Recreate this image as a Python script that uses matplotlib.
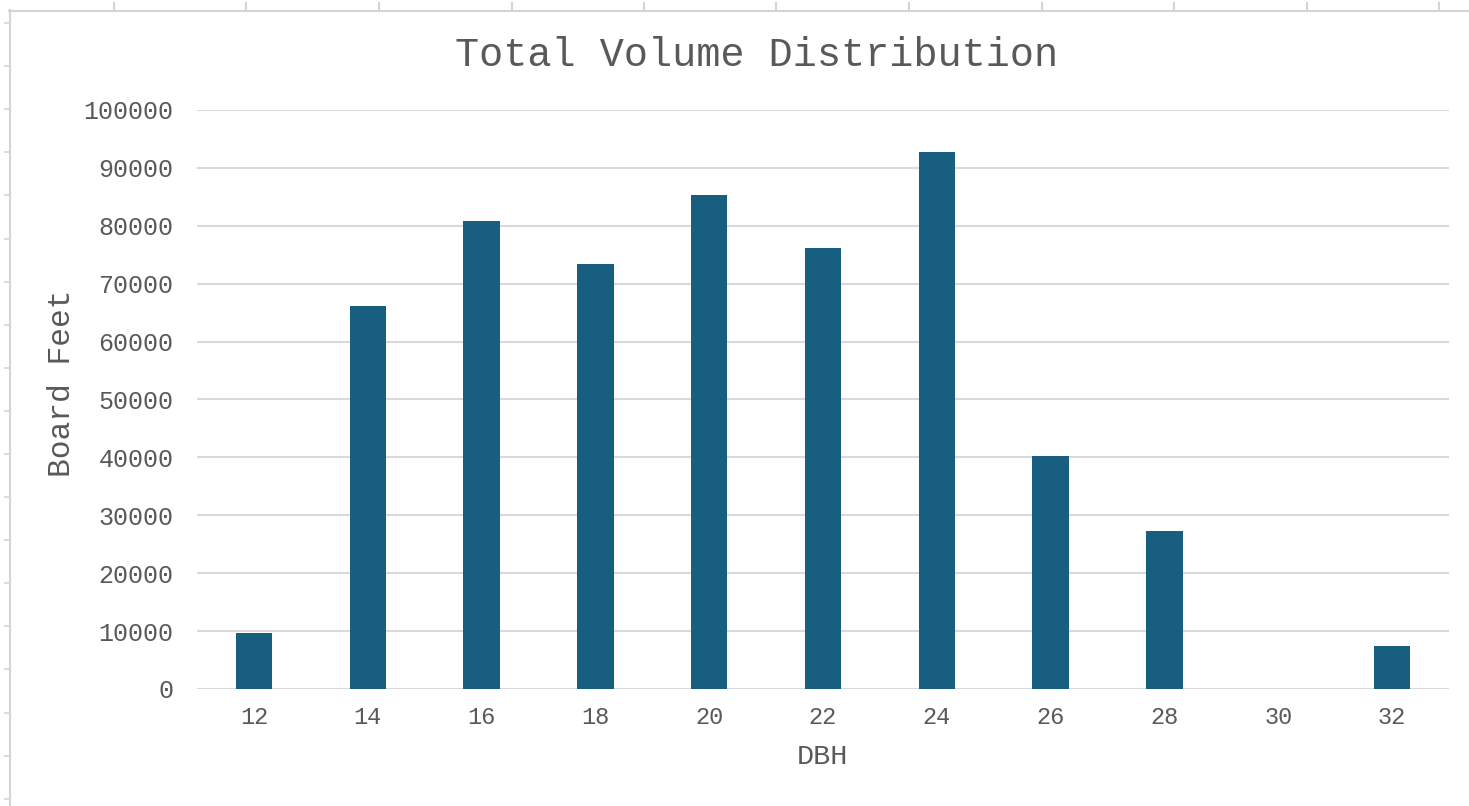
import numpy as np
import matplotlib
matplotlib.use("Agg")
import matplotlib.pyplot as plt
from matplotlib.lines import Line2D

dbh = ["12", "14", "16", "18", "20", "22", "24", "26", "28", "30", "32"]
board_feet = [9700, 66100, 80800, 73400, 85300, 76200, 92700, 40200, 27300, 0, 7400]
y_ticks = [0, 10000, 20000, 30000, 40000, 50000, 60000, 70000, 80000, 90000, 100000]

W, H = 1469, 806
fig = plt.figure(figsize=(W / 100, H / 100), dpi=100)
fig.patch.set_facecolor("white")

font = "Liberation Mono"
text_color = "#595959"
bar_color = "#175e80"
grid_color = "#d9d9d9"

ax = fig.add_axes([197 / W, 1 - 689 / H, (1449 - 197) / W, (689 - 110) / H])
x = np.arange(len(dbh))
ax.bar(x, board_feet, width=0.32, color=bar_color, zorder=3)
ax.set_xlim(-0.5, len(dbh) - 0.5)
ax.set_ylim(0, 100000)
ax.set_yticks(y_ticks)
ax.set_yticklabels([str(v) for v in y_ticks], fontfamily=font, fontsize=18, color=text_color)
ax.set_xticks(x)
ax.set_xticklabels(dbh, fontfamily=font, fontsize=17, color=text_color)
ax.tick_params(axis="y", length=0, pad=17)
ax.tick_params(axis="x", length=0, pad=12)
ax.grid(axis="y", color=grid_color, linewidth=1.5, zorder=0)
ax.set_axisbelow(True)
for s in ax.spines.values():
    s.set_visible(False)

fig.text(757 / W, 1 - 55 / H, "Total Volume Distribution", ha="center", va="center",
         fontfamily=font, fontsize=29, color=text_color)
fig.text(62 / W, 1 - 383 / H, "Board Feet", ha="center", va="center", rotation=90,
         fontfamily=font, fontsize=22.5, color=text_color)
fig.text(822 / W, 1 - 757 / H, "DBH", ha="center", va="center",
         fontfamily=font, fontsize=20.5, color=text_color)

# sheet frame decoration (top and left border with ruler ticks)
fc = "#d4d4d4"
fig.add_artist(Line2D([9 / W, 1.0], [1 - 10.5 / H, 1 - 10.5 / H], color=fc, lw=1.5, transform=fig.transFigure))
fig.add_artist(Line2D([9.5 / W, 9.5 / W], [1 - 10 / H, 0], color=fc, lw=1.5, transform=fig.transFigure))
for tx in np.arange(114, 1469, 132.5):
    fig.add_artist(Line2D([tx / W, tx / W], [1 - 10 / H, 1 - 3 / H], color=fc, lw=1.5, transform=fig.transFigure))
for ty in np.arange(23, 806, 43.1):
    fig.add_artist(Line2D([5 / W, 9 / W], [1 - ty / H, 1 - ty / H], color=fc, lw=1.2, transform=fig.transFigure))

fig.savefig("out.png", dpi=100, facecolor="white")
